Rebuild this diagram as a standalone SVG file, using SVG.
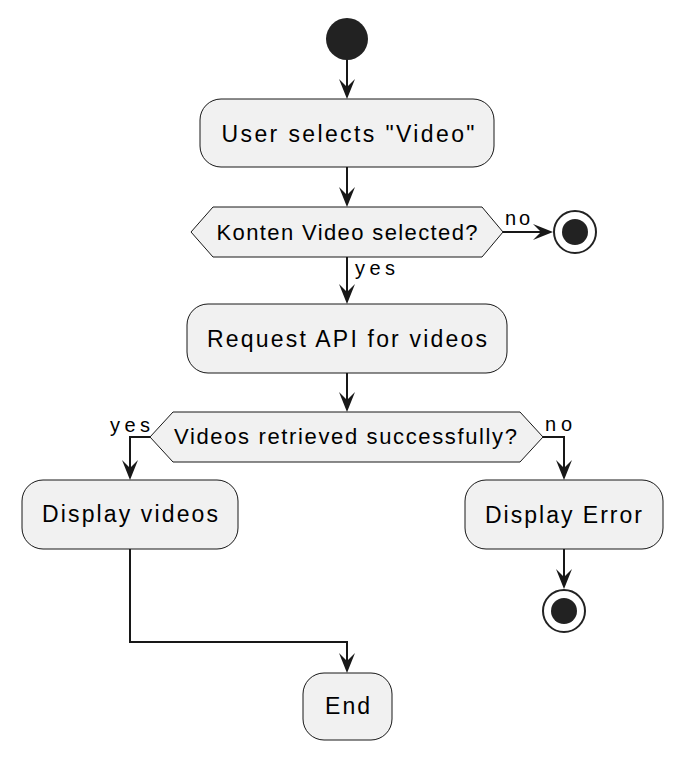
<svg xmlns="http://www.w3.org/2000/svg" width="684" height="762" viewBox="0 0 684 762">
<defs>
<style>
.box{fill:#F1F1F1;stroke:#181818;stroke-width:1}
.t{font-family:"Liberation Sans",Arial,sans-serif;font-size:23px;fill:#000;text-anchor:middle}
.d{font-family:"Liberation Sans",Arial,sans-serif;font-size:22px;fill:#000;text-anchor:middle}
.l{font-family:"Liberation Sans",Arial,sans-serif;font-size:20px;fill:#000}
.c{fill:none;stroke:#181818;stroke-width:2;marker-end:url(#ah)}
</style>
<marker id="ah" markerUnits="userSpaceOnUse" viewBox="-11 -9 22 18" refX="0" refY="0" markerWidth="22" markerHeight="18" orient="auto">
<path d="M10,0 L-10,-8 L-2,0 L-10,8 Z" fill="#181818"/>
</marker>
</defs>
<rect width="684" height="762" fill="#FFFFFF"/>
<g id="connectors">
<path class="c" d="M347,60 V89"/>
<path class="c" d="M347,167 V197"/>
<path class="c" d="M503,232 H543"/>
<path class="c" d="M347,257 V294"/>
<path class="c" d="M347,373 V402"/>
<path class="c" d="M150,437 H130 V470"/>
<path class="c" d="M543,437 H564 V470"/>
<path class="c" d="M564,549 V579"/>
<path class="c" d="M130,549 V642 H347 V663"/>
<text class="l" x="505" y="225" textLength="25" lengthAdjust="spacing">no</text>
<text class="l" x="355" y="275" textLength="40" lengthAdjust="spacing">yes</text>
<text class="l" x="110" y="432" textLength="40" lengthAdjust="spacing">yes</text>
<text class="l" x="545" y="431" textLength="27" lengthAdjust="spacing">no</text>
</g>
<g id="start"><circle cx="347" cy="39" r="21" fill="#222222"/></g>
<g id="userSelects">
<rect class="box" x="200" y="99" width="294" height="68" rx="21"/>
<text class="t" x="348" y="142" textLength="253" lengthAdjust="spacing">User selects "Video"</text>
</g>
<g id="kontenDecision">
<polygon class="box" points="191,232 213,207 482,207 503,232 482,257 213,257"/>
<text class="d" x="347" y="240" textLength="261" lengthAdjust="spacing">Konten Video selected?</text>
</g>
<g id="stop1">
<circle cx="575" cy="232" r="21" fill="#FFFFFF" stroke="#222222" stroke-width="2"/>
<circle cx="575" cy="232" r="13" fill="#222222"/>
</g>
<g id="requestApi">
<rect class="box" x="187" y="304" width="320" height="69" rx="21"/>
<text class="t" x="347" y="347" textLength="280" lengthAdjust="spacing">Request API for videos</text>
</g>
<g id="retrievedDecision">
<polygon class="box" points="150,437 173,412 520,412 543,437 520,462 173,462"/>
<text class="d" x="345.5" y="444" textLength="343" lengthAdjust="spacing">Videos retrieved successfully?</text>
</g>
<g id="displayVideos">
<rect class="box" x="22" y="480" width="216" height="69" rx="21"/>
<text class="t" x="130" y="522" textLength="176" lengthAdjust="spacing">Display videos</text>
</g>
<g id="displayError">
<rect class="box" x="465" y="480" width="198" height="69" rx="21"/>
<text class="t" x="563.5" y="523" textLength="157" lengthAdjust="spacing">Display Error</text>
</g>
<g id="stop2">
<circle cx="564" cy="611" r="21" fill="#FFFFFF" stroke="#222222" stroke-width="2"/>
<circle cx="564" cy="611" r="13" fill="#222222"/>
</g>
<g id="end">
<rect class="box" x="303" y="673" width="89" height="67" rx="21"/>
<text class="t" x="347.5" y="714" textLength="45" lengthAdjust="spacing">End</text>
</g>
</svg>
